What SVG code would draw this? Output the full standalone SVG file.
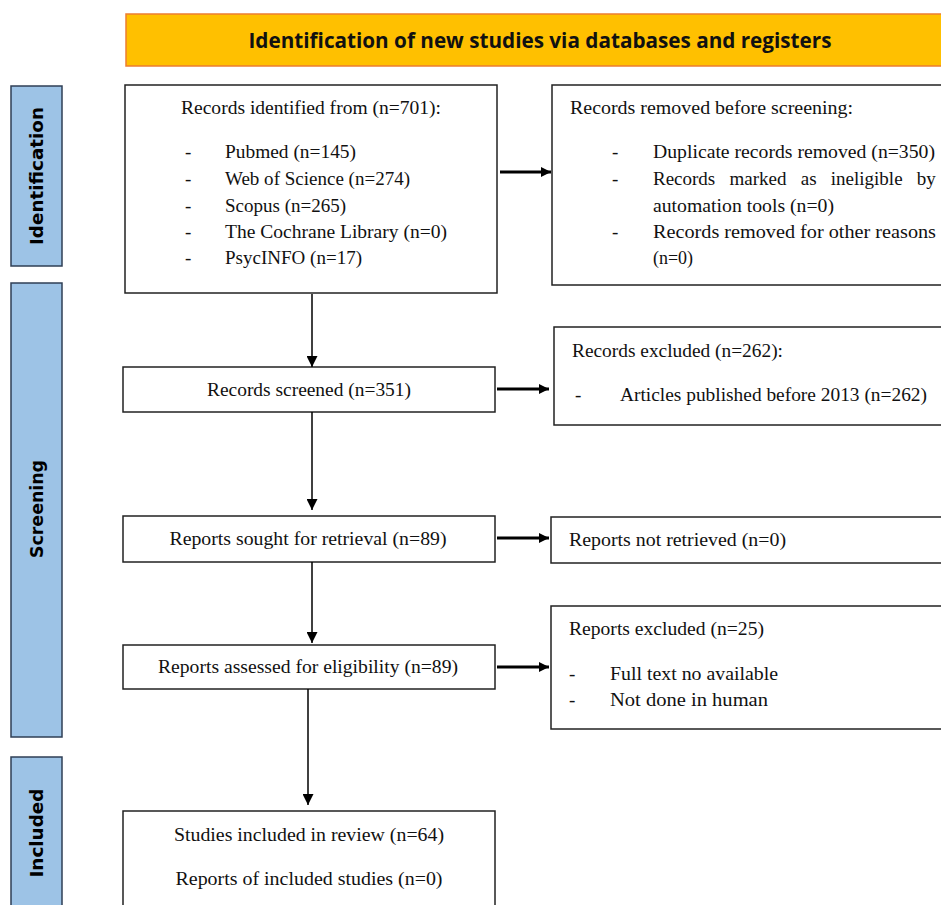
<svg xmlns="http://www.w3.org/2000/svg" width="941" height="905" viewBox="0 0 941 905">
<defs>
<marker id="ah" viewBox="0 0 10 10" refX="10" refY="5" markerWidth="10" markerHeight="11" markerUnits="userSpaceOnUse" orient="auto">
<path d="M0,0 L10,5 L0,10 z" fill="#000"/>
</marker>
<marker id="ahv" viewBox="0 0 10 10" refX="10" refY="5" markerWidth="14" markerHeight="11" markerUnits="userSpaceOnUse" orient="auto">
<path d="M0,0 L10,5 L0,10 z" fill="#000"/>
</marker>
</defs>
<style>
.box{fill:#fff;stroke:#222;stroke-width:1.5}
.side{fill:#9dc3e6;stroke:#2f3f55;stroke-width:1.5}
.t{font-family:"Liberation Serif","Times New Roman",serif;font-size:19px;fill:#111}
.c{text-anchor:middle}
.s{font-family:"DejaVu Sans",Verdana,sans-serif;font-weight:bold;font-size:17.5px;fill:#000;text-anchor:middle}
.h{font-family:"Open Sans","Liberation Sans",sans-serif;font-weight:bold;font-size:22px;fill:#111;text-anchor:middle}
.v{stroke:#000;stroke-width:1.5;fill:none}
.hz{stroke:#000;stroke-width:2.8;fill:none}
</style>
<rect width="941" height="905" fill="#fff"/>

<g id="header">
<rect x="126" y="14" width="820" height="52" fill="#ffc000" stroke="#ed7d31" stroke-width="1.5"/>
<text class="h" x="540" y="48" textLength="583" lengthAdjust="spacingAndGlyphs">Identification of new studies via databases and registers</text>
</g>

<g id="side-identification">
<rect class="side" x="11" y="86" width="51" height="180"/>
<text class="s" transform="translate(43,176) rotate(-90)" textLength="138" lengthAdjust="spacingAndGlyphs">Identification</text>
</g>
<g id="side-screening">
<rect class="side" x="11" y="283" width="51" height="454"/>
<text class="s" transform="translate(43,509) rotate(-90)" textLength="98" lengthAdjust="spacingAndGlyphs">Screening</text>
</g>
<g id="side-included">
<rect class="side" x="11" y="757" width="51" height="160"/>
<text class="s" transform="translate(43,833) rotate(-90)" textLength="89" lengthAdjust="spacingAndGlyphs">Included</text>
</g>

<g id="records-identified">
<rect class="box" x="125" y="85" width="372" height="208"/>
<text class="t" x="181" y="114" textLength="260" lengthAdjust="spacingAndGlyphs">Records identified from (n=701):</text>
<text class="t" x="185" y="158">-</text>
<text class="t" x="225" y="158" textLength="131" lengthAdjust="spacingAndGlyphs">Pubmed (n=145)</text>
<text class="t" x="185" y="185">-</text>
<text class="t" x="225" y="185" textLength="185" lengthAdjust="spacingAndGlyphs">Web of Science (n=274)</text>
<text class="t" x="185" y="212">-</text>
<text class="t" x="225" y="212" textLength="121" lengthAdjust="spacingAndGlyphs">Scopus (n=265)</text>
<text class="t" x="185" y="238">-</text>
<text class="t" x="225" y="238" textLength="222" lengthAdjust="spacingAndGlyphs">The Cochrane Library (n=0)</text>
<text class="t" x="185" y="264">-</text>
<text class="t" x="225" y="264" textLength="137" lengthAdjust="spacingAndGlyphs">PsycINFO (n=17)</text>
</g>

<g id="records-removed">
<rect class="box" x="552" y="85" width="400" height="200"/>
<text class="t" x="570" y="114" textLength="283" lengthAdjust="spacingAndGlyphs">Records removed before screening:</text>
<text class="t" x="612" y="158">-</text>
<text class="t" x="653" y="158" textLength="282" lengthAdjust="spacingAndGlyphs">Duplicate records removed (n=350)</text>
<text class="t" x="612" y="185">-</text>
<text class="t" x="653" y="185" word-spacing="9.5">Records marked as ineligible by</text>
<text class="t" x="653" y="212" textLength="181" lengthAdjust="spacingAndGlyphs">automation tools (n=0)</text>
<text class="t" x="612" y="238">-</text>
<text class="t" x="653" y="238" textLength="283" lengthAdjust="spacingAndGlyphs">Records removed for other reasons</text>
<text class="t" x="653" y="264" textLength="40" lengthAdjust="spacingAndGlyphs">(n=0)</text>
</g>

<g id="records-screened">
<rect class="box" x="123" y="367" width="372" height="45"/>
<text class="t c" x="309" y="396" textLength="204" lengthAdjust="spacingAndGlyphs">Records screened (n=351)</text>
</g>

<g id="records-excluded">
<rect class="box" x="554" y="327" width="400" height="98"/>
<text class="t" x="572" y="357" textLength="211" lengthAdjust="spacingAndGlyphs">Records excluded (n=262):</text>
<text class="t" x="575" y="401">-</text>
<text class="t" x="620" y="401" textLength="307" lengthAdjust="spacingAndGlyphs">Articles published before 2013 (n=262)</text>
</g>

<g id="reports-sought">
<rect class="box" x="123" y="516" width="372" height="46"/>
<text class="t c" x="308" y="545" textLength="277" lengthAdjust="spacingAndGlyphs">Reports sought for retrieval (n=89)</text>
</g>

<g id="reports-not-retrieved">
<rect class="box" x="551" y="517" width="400" height="46"/>
<text class="t" x="569" y="546" textLength="217" lengthAdjust="spacingAndGlyphs">Reports not retrieved (n=0)</text>
</g>

<g id="reports-assessed">
<rect class="box" x="123" y="645" width="372" height="44"/>
<text class="t c" x="308" y="673" textLength="300" lengthAdjust="spacingAndGlyphs">Reports assessed for eligibility (n=89)</text>
</g>

<g id="reports-excluded">
<rect class="box" x="551" y="606" width="400" height="123"/>
<text class="t" x="569" y="635" textLength="195" lengthAdjust="spacingAndGlyphs">Reports excluded (n=25)</text>
<text class="t" x="569" y="680">-</text>
<text class="t" x="610" y="680" textLength="168" lengthAdjust="spacingAndGlyphs">Full text no available</text>
<text class="t" x="569" y="706">-</text>
<text class="t" x="610" y="706" textLength="158" lengthAdjust="spacingAndGlyphs">Not done in human</text>
</g>

<g id="studies-included">
<rect class="box" x="123" y="811" width="372" height="110"/>
<text class="t c" x="309" y="841" textLength="270" lengthAdjust="spacingAndGlyphs">Studies included in review (n=64)</text>
<text class="t c" x="309" y="885" textLength="267" lengthAdjust="spacingAndGlyphs">Reports of included studies (n=0)</text>
</g>

<g id="connectors">
<line class="hz" x1="500" y1="172" x2="551" y2="172" marker-end="url(#ah)"/>
<line class="hz" x1="497" y1="389" x2="549" y2="389" marker-end="url(#ah)"/>
<line class="hz" x1="497" y1="538" x2="549" y2="538" marker-end="url(#ah)"/>
<line class="hz" x1="497" y1="667" x2="549" y2="667" marker-end="url(#ah)"/>
<line class="v" x1="312" y1="294" x2="312" y2="367" marker-end="url(#ahv)"/>
<line class="v" x1="312" y1="412" x2="312" y2="510" marker-end="url(#ahv)"/>
<line class="v" x1="312" y1="562" x2="312" y2="643" marker-end="url(#ahv)"/>
<line class="v" x1="308" y1="689" x2="308" y2="805" marker-end="url(#ahv)"/>
</g>
</svg>
